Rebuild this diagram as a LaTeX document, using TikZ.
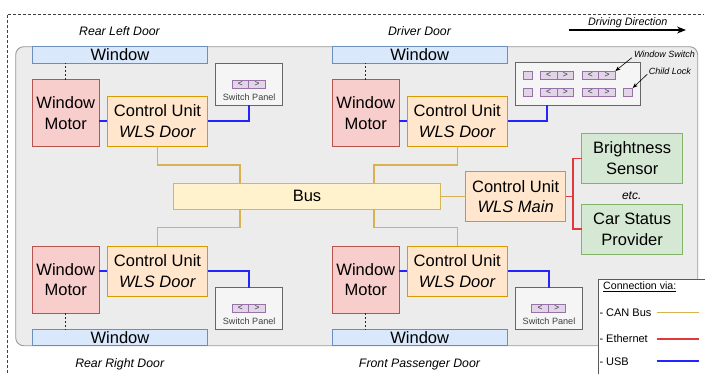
\documentclass[tikz,border=0pt]{standalone}
\usepackage{fontspec}
\setmainfont{Liberation Sans}
\usetikzlibrary{arrows.meta,calc}

\definecolor{winfill}{HTML}{DAE8FC}
\definecolor{winline}{HTML}{6C8EBF}
\definecolor{motfill}{HTML}{F8CECC}
\definecolor{motline}{HTML}{B85450}
\definecolor{cufill}{HTML}{FFE6CC}
\definecolor{culine}{HTML}{D79B00}
\definecolor{busfill}{HTML}{FFF2CC}
\definecolor{busline}{HTML}{D6B656}
\definecolor{senfill}{HTML}{D5E8D4}
\definecolor{senline}{HTML}{82B366}
\definecolor{panfill}{HTML}{F5F5F5}
\definecolor{panline}{HTML}{666666}
\definecolor{btnfill}{HTML}{E1D5E7}
\definecolor{btnline}{HTML}{9673A6}
\definecolor{carfill}{HTML}{ECECEC}
\definecolor{carline}{HTML}{9A9A9A}
\definecolor{canc}{HTML}{D8B24E}
\definecolor{ethc}{HTML}{E0393B}
\definecolor{usbc}{HTML}{2424FF}

\tikzset{
  box/.style={draw, line width=0.9pt, inner sep=0pt, outer sep=0pt, align=center,
    font=\fontsize{16.5}{20.5}\selectfont},
  winbox/.style={box, fill=winfill, draw=winline, minimum width=175.4pt, minimum height=16.6pt},
  motbox/.style={box, fill=motfill, draw=motline, minimum width=67pt, minimum height=67pt},
  cubox/.style={box, fill=cufill, draw=culine, minimum width=100.4pt, minimum height=50.4pt},
  senbox/.style={box, fill=senfill, draw=senline, minimum width=101pt, minimum height=50pt},
  panbox/.style={draw=panline, fill=panfill, line width=0.9pt, inner sep=0pt, outer sep=0pt},
  btnsq/.style={draw=btnline, fill=btnfill, line width=0.8pt, inner sep=0pt, outer sep=0pt,
    minimum width=9pt, minimum height=8.6pt},
  btntxt/.style={inner sep=0pt, text=black!80, font=\fontsize{8.5}{9}\selectfont},
  can/.style={draw=canc, line width=1.5pt},
  eth/.style={draw=ethc, line width=1.6pt},
  usb/.style={draw=usbc, line width=1.6pt},
  linkdash/.style={draw=black!85, line width=0.7pt, dash pattern=on 2pt off 2pt},
  doorlbl/.style={anchor=base, inner sep=0pt, font=\fontsize{12.3}{14}\selectfont\itshape},
  smalllbl/.style={anchor=base, inner sep=0pt, font=\fontsize{9}{10}\selectfont\itshape},
  panlbl/.style={anchor=base, inner sep=0pt, text=black!75, font=\fontsize{9.1}{10}\selectfont},
  leglbl/.style={anchor=base west, inner sep=0pt, font=\fontsize{11}{12}\selectfont},
  callout/.style={-{Stealth[length=5pt,width=4pt]}, line width=0.6pt},
  lrpair/.pic={
    \draw[draw=btnline, fill=btnfill, line width=0.8pt] (0,0) rectangle (33.4,8.4);
    \draw[draw=btnline, line width=0.8pt] (16.7,0) -- (16.7,8.4);
    \node[btntxt] (-l) at (8.35,4.2) {<};
    \node[btntxt] (-r) at (25.05,4.2) {>};
    \coordinate (-ne) at (33.4,0);
  }
}

\begin{document}
\begin{tikzpicture}[x=1pt,y=-1pt]
\clip (0,0) rectangle (705,373);
\fill[white] (0,0) rectangle (705,373);

% outer frame of the vehicle (left and top edges)
\draw[black!75, line width=0.6pt, dash pattern=on 3pt off 2pt] (7,373) -- (7,14) -- (703.5,14);

% car body
\draw[fill=carfill, draw=carline, line width=0.9pt, rounded corners=8pt]
  (15.7,46.7) rectangle (697.7,345.7);

% windows
\node[winbox] (winTL) at (120,55) {Window};
\node[winbox] (winTR) at (419.7,55) {Window};
\node[winbox] (winBL) at (120,337.5) {Window};
\node[winbox] (winBR) at (419.7,337.5) {Window};

% window motors
\node[motbox] (motTL) at (65.8,113.2) {Window\\Motor};
\node[motbox] (motTR) at (365.8,113.2) {Window\\Motor};
\node[motbox] (motBL) at (65.8,279.5) {Window\\Motor};
\node[motbox] (motBR) at (365.8,279.5) {Window\\Motor};

% door control units
\node[cubox] (cuTL) at (157.5,121.2) {Control Unit\\\textit{WLS Door}};
\node[cubox] (cuTR) at (457.3,121.2) {Control Unit\\\textit{WLS Door}};
\node[cubox] (cuBL) at (157.5,271.2) {Control Unit\\\textit{WLS Door}};
\node[cubox] (cuBR) at (457.3,271.2) {Control Unit\\\textit{WLS Door}};

% bus and main unit
\node[box, fill=busfill, draw=busline, minimum width=267.4pt, minimum height=26pt] (bus) at (307,196.3) {Bus};
\node[cubox, minimum width=100pt, minimum height=49.6pt] (main) at (515.7,196.5) {Control Unit\\\textit{WLS Main}};

% sensors
\node[senbox] (bright) at (632.2,158.3) {Brightness\\Sensor};
\node[senbox] (status) at (632.2,229.2) {Car Status\\Provider};
\node[anchor=base, inner sep=0pt, font=\fontsize{12}{14}\selectfont\itshape] (etc) at (631.7,199.4) {etc.};

% switch panels
\node[panbox, minimum width=67pt, minimum height=42.3pt] (spTL) at (249.2,84.2) {};
\node[panbox, minimum width=67pt, minimum height=42.3pt] (spBL) at (249.2,308.7) {};
\node[panbox, minimum width=67pt, minimum height=42.3pt] (spBR) at (549,308.7) {};
\node[panbox, minimum width=125pt, minimum height=42.6pt] (spDrv) at (578.2,84) {};

\pic (bTL) at (232,80) {lrpair};
\pic (bBL) at (232,304.3) {lrpair};
\pic (bBR) at (531.8,304.3) {lrpair};
\node[panlbl] (lblTL) at (249.2,100) {Switch Panel};
\node[panlbl] (lblBL) at (249.2,324.3) {Switch Panel};
\node[panlbl] (lblBR) at (549,324.3) {Switch Panel};

% driver switch panel contents
\node[btnsq] (sq1) at (527.8,75.3) {};
\node[btnsq] (sq2) at (527.8,92.2) {};
\pic (b11) at (540.3,71) {lrpair};
\pic (b12) at (582,71) {lrpair};
\pic (b21) at (540.3,87.9) {lrpair};
\pic (b22) at (582,87.9) {lrpair};
\node[btnsq] (lock) at (628.3,92.2) {};

\node[smalllbl] (lblSwitch) at (664.5,57.9) {Window Switch};
\node[smalllbl] (lblLock) at (670,74.9) {Child Lock};
\draw[callout] ($(lblSwitch.south west)+(-2,-0.5)$) -- (b12-ne);
\draw[callout] ($(lblLock.south west)+(-1.5,-1)$) -- (lock.north east);

% motor to window
\draw[linkdash] (motTL.north) -- (motTL.north |- winTL.south);
\draw[linkdash] (motTR.north) -- (motTR.north |- winTR.south);
\draw[linkdash] (motBL.south) -- (motBL.south |- winBL.north);
\draw[linkdash] (motBR.south) -- (motBR.south |- winBR.north);

% USB links
\draw[usb] (cuTL.west) -- (cuTL.west -| motTL.east);
\draw[usb] (cuTR.west) -- (cuTR.west -| motTR.east);
\draw[usb] (cuBL.west) -- (cuBL.west -| motBL.east);
\draw[usb] (cuBR.west) -- (cuBR.west -| motBR.east);
\draw[usb] (cuTL.east) -| (spTL.south);
\draw[usb] (cuTR.east) -| ($(spDrv.south west)+(31,0)$);
\draw[usb] (cuBL.east) -| (spBL.north);
\draw[usb] (cuBR.east) -| (spBR.north);

% CAN bus links
\draw[can] (cuTL.south) -- ++(0,18.8) -| ($(bus.north west)!.25!(bus.north east)$);
\draw[can] (cuTR.south) -- ++(0,18.8) -| ($(bus.north west)!.75!(bus.north east)$);
\draw[can] (cuBL.north) -- ++(0,-18.7) -| ($(bus.south west)!.25!(bus.south east)$);
\draw[can] (cuBR.north) -- ++(0,-18.7) -| ($(bus.south west)!.75!(bus.south east)$);
\draw[can] (bus.east) -- (bus.east -| main.west);

% Ethernet links
\draw[eth] (bright.west) -- ++(-8.7,0) |- (main.east);
\draw[eth] (status.west) -- ++(-8.7,0) |- (main.east);

% door labels
\node[doorlbl] (lRL) at (119.5,35.1) {Rear Left Door};
\node[doorlbl] (lDR) at (419.5,35.1) {Driver Door};
\node[doorlbl] (lRR) at (119.7,367.4) {Rear Right Door};
\node[doorlbl] (lFP) at (419.5,367.4) {Front Passenger Door};

% driving direction
\node[anchor=base, inner sep=0pt, font=\fontsize{10.8}{12}\selectfont\itshape] (ldir) at (627.8,25.9) {Driving Direction};
\draw[-{Stealth[length=9pt,width=7pt]}, line width=1.2pt] (569.3,30) -- (686,30);

% legend
\draw[fill=white, draw=black!65, line width=0.8pt] (598.3,279) rectangle (712,380);
\node[leglbl, font=\fontsize{10.6}{12}\selectfont] (lgHead) at (603,289.5) {\underline{Connection via:}};
\node[leglbl] (lgCan) at (599.3,316.6) {- CAN Bus};
\node[leglbl] (lgEth) at (599.3,342.9) {- Ethernet};
\node[leglbl] (lgUsb) at (599.3,365.6) {- USB};
\draw[can] (656.7,312.7) -- (699,312.7);
\draw[eth] (656.7,339) -- (699,339);
\draw[usb] (656.7,360.7) -- (699,360.7);
\end{tikzpicture}
\end{document}
